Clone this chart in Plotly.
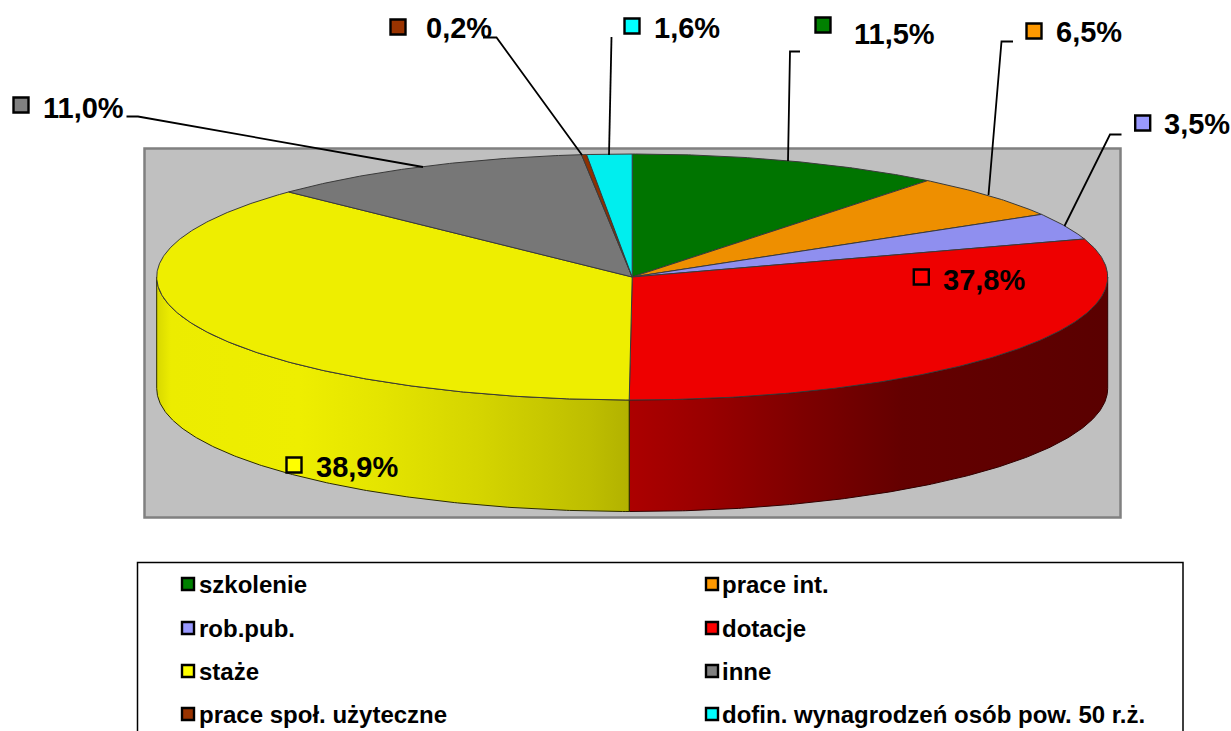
import math
import plotly.graph_objects as go

# ---- data ----
categories = ["szkolenie", "prace int.", "rob.pub.", "dotacje", "staże", "inne",
              "prace społ. użyteczne", "dofin. wynagrodzeń osób pow. 50 r.ż."]
# share of the full circle as actually drawn in the picture
slice_shares = [10.67, 5.83, 3.5, 30.1, 37.05, 11.15, 0.17, 1.53]
# percentages as printed on the data labels
label_texts = ["11,5%", "6,5%", "3,5%", "37,8%", "38,9%", "11,0%", "0,2%", "1,6%"]

# ---- styles ----
top_colors = ["#007400", "#EE8F00", "#8F8FEF", "#EE0000", "#EEEE00", "#777777", "#8F3000", "#00EEEE"]
key_colors = ["#008000", "#FF9900", "#9999FF", "#FF0000", "#FFFF00", "#808080", "#993300", "#00FFFF"]
wall_scales = {
    3: [[0, "#AC0000"], [0.17, "#980000"], [0.36, "#7E0000"], [0.57, "#640000"], [1, "#5A0000"]],
    4: [[0, "#D8D800"], [0.03, "#ECEC00"], [0.3, "#EEEE00"], [0.48, "#E4E400"], [0.69, "#D4D400"],
        [0.915, "#BEBE00"], [1, "#B2B200"]],
}
FONT = "Liberation Sans, Arial, sans-serif"

# ---- layout geometry (paper is measured in screen pixels) ----
W, H = 1231, 731
CX, CY, RX, RY, DEPTH = 632.2, 277.0, 475.5, 123.0, 111.5


def pt(deg, dy=0.0):
    a = math.radians(deg)
    return CX + RX * math.sin(a), CY - RY * math.cos(a) + dy


def arc(a0, a1, dy=0.0):
    n = max(2, int(abs(a1 - a0) / 0.4) + 1)
    return [pt(a0 + (a1 - a0) * i / (n - 1), dy) for i in range(n)]


total = sum(slice_shares)
edges = [0.0]
for s in slice_shares:
    edges.append(edges[-1] + s / total * 360)

fig = go.Figure()

# front walls: only the part of each slice between 90 and 270 degrees is visible
for i in range(len(slice_shares)):
    a0, a1 = max(edges[i], 90), min(edges[i + 1], 270)
    if a1 <= a0:
        continue
    top = arc(a0, a1)
    bottom = arc(a1, a0, DEPTH)
    poly = top + bottom + [top[0]]
    fig.add_trace(go.Scatter(
        x=[p[0] for p in poly], y=[p[1] for p in poly], mode="lines", fill="toself",
        line=dict(color="#2A2A00" if i == 4 else "#300000", width=1),
        fillgradient=dict(type="horizontal", colorscale=wall_scales[i]),
        hoverinfo="skip", showlegend=False))

# top face
for i in range(len(slice_shares)):
    poly = [(CX, CY)] + arc(edges[i], edges[i + 1]) + [(CX, CY)]
    fig.add_trace(go.Scatter(
        x=[p[0] for p in poly], y=[p[1] for p in poly], mode="lines", fill="toself",
        fillcolor=top_colors[i], line=dict(color="#3A3A3A", width=1),
        hoverinfo="skip", showlegend=False))

# leader lines, one polyline per label that has one
leaders = {
    0: ([800, 790, 788], [51.5, 51.5, 161]),
    1: ([1013, 1001.5, 988.5], [41.5, 41.5, 195]),
    2: ([1121.5, 1110, 1064.5], [134.5, 134.5, 226]),
    5: ([126.5, 138, 423], [116.5, 116.5, 167]),
    6: ([483, 496.5, 582], [37.5, 37.5, 155]),
    7: ([611.5, 609], [37, 155]),
}
for x, y in leaders.values():
    fig.add_trace(go.Scatter(x=x, y=y, mode="lines", line=dict(color="#000000", width=1.8),
                             hoverinfo="skip", showlegend=False))

# data label keys and texts
key_x = [823, 1034, 1142.7, 921.3, 294, 21, 398, 632]
key_y = [25, 31, 123, 277, 465, 105, 27, 26]
text_x = [854, 1056, 1164, 943, 316, 43, 426, 654]
text_y = [34, 32, 124, 280, 467, 108, 28, 28]
fig.add_trace(go.Scatter(
    x=key_x, y=key_y, mode="markers",
    marker=dict(symbol="square", size=15, color=key_colors, line=dict(color="#000000", width=2.4)),
    hoverinfo="skip", showlegend=False))
annotations = [
    dict(x=x, y=y, text="<b>%s</b>" % t, xref="x", yref="y", xanchor="left", yanchor="middle",
         showarrow=False, xshift=-2, font=dict(family=FONT, size=29, color="#000000"))
    for x, y, t in zip(text_x, text_y, label_texts)
]

# legend
leg_key_x = [188, 712, 188, 712, 188, 712, 188, 712]
leg_y = [584, 584, 628, 628, 671, 671, 714, 714]
leg_text_x = [199, 722, 199, 722, 199, 722, 199, 722]
fig.add_trace(go.Scatter(
    x=leg_key_x, y=leg_y, mode="markers",
    marker=dict(symbol="square", size=12, color=key_colors, line=dict(color="#000000", width=2.4)),
    hoverinfo="skip", showlegend=False))
annotations += [
    dict(x=x, y=y, text="<b>%s</b>" % c, xref="x", yref="y", xanchor="left", yanchor="middle",
         showarrow=False, xshift=-2, font=dict(family=FONT, size=24, color="#000000"))
    for x, y, c in zip(leg_text_x, leg_y, categories)
]

shapes = [
    dict(type="rect", xref="x", yref="y", x0=144.5, x1=1120.5, y0=148.5, y1=517.5, layer="below",
         fillcolor="#C0C0C0", line=dict(color="#808080", width=2.5)),
    dict(type="rect", xref="x", yref="y", x0=137.5, x1=1183, y0=562.5, y1=790, layer="below",
         fillcolor="#FFFFFF", line=dict(color="#000000", width=1.5)),
]

fig.update_layout(
    width=W, height=H, margin=dict(l=0, r=0, t=0, b=0),
    paper_bgcolor="#FFFFFF", plot_bgcolor="#FFFFFF",
    xaxis=dict(range=[0, W], visible=False, fixedrange=True),
    yaxis=dict(range=[H, 0], visible=False, fixedrange=True),
    shapes=shapes, annotations=annotations, showlegend=False,
)
fig.write_html("out.html", config={"displayModeBar": False, "staticPlot": True},
               post_script="document.body.style.margin='0';document.body.style.overflow='hidden';")
